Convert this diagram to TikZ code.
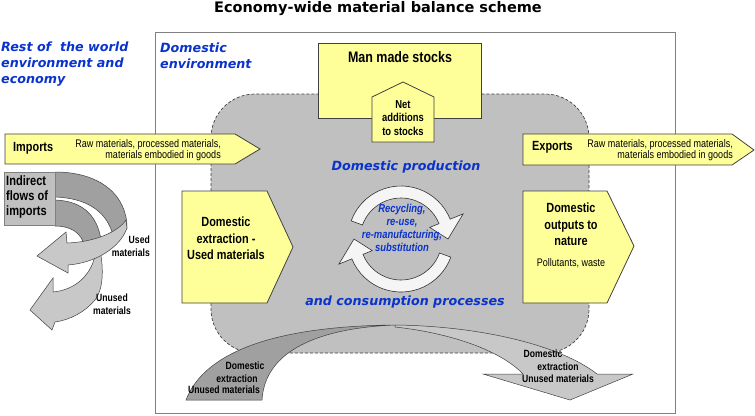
\documentclass[tikz,border=0pt]{standalone}
\usepackage{fontspec}
\setmainfont{Liberation Sans}
\newfontfamily\nar[FakeStretch=0.82]{Liberation Sans}
\newfontfamily\dv{DejaVu Sans}
\newcommand\myfs[2]{\fontsize{#1}{#2}\selectfont}
\definecolor{yel}{HTML}{FFFF99}
\definecolor{gr}{HTML}{C0C0C0}
\definecolor{dk}{HTML}{A0A0A0}
\definecolor{lt}{HTML}{C8C8C8}
\definecolor{bl}{HTML}{0A33CC}
\definecolor{edge}{HTML}{404040}
\begin{document}
\begin{tikzpicture}[x=1pt,y=-1pt,
  ybox/.style={fill=yel,draw=edge,line width=0.8pt,line join=miter},
  band/.style={draw=edge,line width=0.5pt},
  ring/.style={fill=black!4,draw=black!80,line width=0.6pt},
  lbl/.style={inner sep=0pt,font=\nar\bfseries\myfs{13.3}{16.5},align=center},
  sml/.style={inner sep=0pt,font=\nar\myfs{11}{10.5}},
  smb/.style={inner sep=0pt,font=\nar\bfseries\myfs{10.5}{13}},
  bluet/.style={inner sep=0pt,text=bl,font=\dv\bfseries\itshape\myfs{12.7}{16},align=left},
]
\useasboundingbox (0,0) rectangle (755,415);

% title
\node[inner sep=0pt,font=\dv\bfseries\myfs{14.5}{16}] (title) at (378,9) {Economy-wide material balance scheme};

% outer domestic frame
\draw[black!50,line width=1pt] (155.5,32) rectangle (675,413);

% labels
\node[bluet,anchor=west] (row) at (1,64) {Rest of\ \ the world\\environment and\\economy};
\node[bluet,anchor=west] (dom) at (160,56) {Domestic\\environment};

% gray dashed area
\draw[fill=gr,draw=edge,dash pattern=on 3pt off 2pt,line width=0.7pt,rounded corners=44pt] (211,94) rectangle (589,353);

% man made stocks
\draw[ybox] (318,43) rectangle (481,118);
\node[inner sep=0pt,font=\nar\bfseries\myfs{15.2}{17}] (mms) at (400,57) {Man made stocks};
\draw[ybox] (372,142) -- (372,97) -- (403,82) -- (434,97) -- (434,142) -- cycle;
\node[inner sep=0pt,font=\nar\bfseries\myfs{11.5}{13.3},align=center] (net) at (403,118) {Net\\additions\\to stocks};

% imports / exports
\draw[ybox] (5,134) -- (235,134) -- (260,149) -- (235,164) -- (5,164) -- cycle;
\node[lbl,anchor=west] (imp) at (13,148) {Imports};
\node[sml,align=right,anchor=east] (impt) at (221,150) {Raw materials, processed materials,\\materials embodied in goods};
\draw[ybox] (523,134) -- (732,134) -- (754,150) -- (732,165) -- (523,165) -- cycle;
\node[lbl,anchor=west] (exp) at (532,147) {Exports};
\node[sml,align=right,anchor=east] (expt) at (733,150) {Raw materials, processed materials,\\materials embodied in goods};

% domestic extraction / outputs
\draw[ybox] (182,191) -- (267,191) -- (293,247) -- (267,303) -- (182,303) -- cycle;
\node[lbl] (dext) at (226,238.5) {Domestic\\extraction -\\Used materials};
\draw[ybox] (523,191) -- (607,191) -- (634,246) -- (607,303) -- (523,303) -- cycle;
\node[lbl] (dout) at (571,224.5) {Domestic\\outputs to\\nature};
\node[sml] (poll) at (571,263) {Pollutants, waste};

% production labels
\node[bluet] (prod) at (406,167) {Domestic production};
\node[bluet] (cons) at (405,302) {and consumption processes};

% recycling ring
\begin{scope}[shift={(401,239)},yscale=-1]
\draw[ring] (160:53) arc[start angle=160,end angle=22,radius=53] -- (22:67) -- (0:47) -- (22:31) -- (22:41) arc[start angle=22,end angle=160,radius=41] -- cycle;
\draw[ring] (-20:53) arc[start angle=-20,end angle=-158,radius=53] -- (-158:67) -- (-180:47) -- (-158:31) -- (-158:41) arc[start angle=-158,end angle=-20,radius=41] -- cycle;
\end{scope}
\node[inner sep=0pt,text=bl,font=\nar\bfseries\itshape\myfs{11.5}{13},align=center] (rec) at (402,228) {Recycling,\\re-use,\\re-manufacturing,\\substitution};

% bottom unused extraction bands
\draw[band,fill=lt] (395,325) .. controls (480,326) and (560,345) .. (597,374) -- (633,374) -- (570,400) -- (483,374) -- (523,374) .. controls (500,350) and (450,333) .. (395,327) -- cycle;
\draw[band,fill=dk] (186,400) .. controls (205,350) and (280,326) .. (395,325) .. controls (320,328) and (265,350) .. (262,400) -- cycle;
\node[smb] (bl1) at (245,366) {Domestic};
\node[smb] (bl2) at (237,379) {extraction};
\node[smb] (bl3) at (224,390) {Unused materials};
\node[smb] (br1) at (543,354) {Domestic};
\node[smb] (br2) at (558,367) {extraction};
\node[smb] (br3) at (558,379) {Unused materials};

% indirect flows spiral
\draw[band,fill=dk] (55,200) .. controls (85,201) and (100,218) .. (102,248) -- (85,248) .. controls (82,232) and (70,226) .. (55,226) -- cycle;
\draw[band,fill=lt] (100,250) .. controls (104,270) and (103,290) .. (95,300) .. controls (85,312) and (70,320) .. (55,322) -- (52,330) -- (30,310) -- (53,278) -- (53,292) .. controls (75,290) and (93,275) .. (96,250) -- cycle;
\draw[band,fill=dk] (55,172) .. controls (100,172) and (127,195) .. (127,228) -- (112,232) .. controls (105,210) and (85,198) .. (55,197) -- cycle;
\draw[band,fill=lt] (126,220) .. controls (118,232) and (95,242) .. (67,243) -- (66,232) -- (37,256) -- (68,273) -- (68,265) .. controls (95,263) and (120,248) .. (127,228) -- cycle;
\draw[fill=gr,draw=black!50,line width=0.8pt] (4,172) rectangle (55,225);
\node[inner sep=0pt,font=\nar\bfseries\myfs{13.5}{15},align=left,anchor=west] (ind) at (6,197) {Indirect\\flows of\\imports};
\node[smb,align=right,anchor=east] (used) at (150,246.5) {Used\\materials};
\node[smb,align=center] (unused) at (112,304) {Unused\\materials};
\end{tikzpicture}
\end{document}
